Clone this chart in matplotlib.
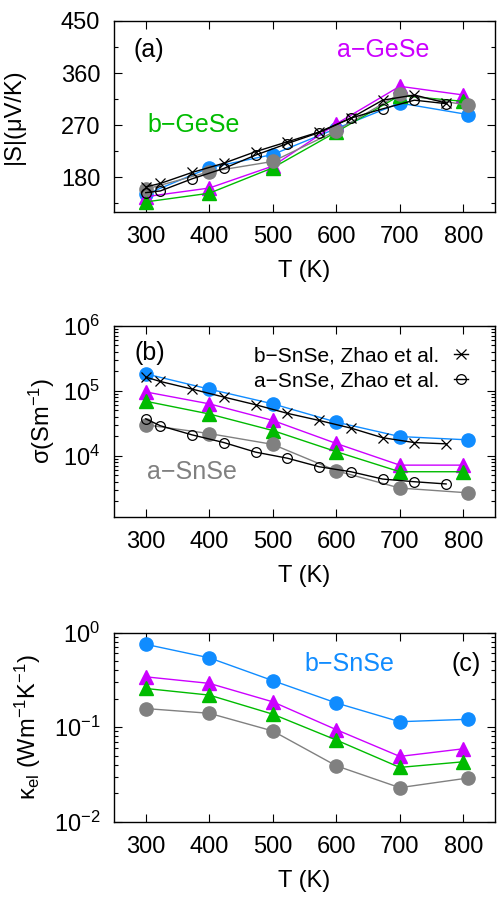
import numpy as np
import matplotlib
matplotlib.use('Agg')
import matplotlib.pyplot as plt
from matplotlib.ticker import MultipleLocator, LogLocator, NullFormatter

plt.rcParams['font.family'] = ['Liberation Sans', 'DejaVu Sans']
plt.rcParams['mathtext.default'] = 'regular'
plt.rcParams['axes.linewidth'] = 1.0

# temperatures
T_calc = [300, 400, 500, 600, 700, 800]
T_circ = [300, 400, 500, 600, 700, 808]   # filled circle series sit a bit right at 800 K
T_exp = [300, 323, 373, 423, 473, 523, 573, 623, 673, 723, 773]

# (a) Seebeck |S| (uV/K)
S_bSnSe = [150, 196, 219, 264, 308, 288]
S_aSnSe = [159, 189, 207, 260, 324, 304]
S_aGeSe = [146, 161, 199, 272, 337, 322]
S_bGeSe = [137, 152, 196, 258, 321, 311]
S_bZhao = [163, 169, 188, 204, 224, 241, 258, 282, 313, 322, 308]
S_aZhao = [153, 156, 177, 195, 218, 238, 257, 282, 298, 313, 307]

# (b) electrical conductivity (S/m)
sig_bSnSe = [1.82e5, 1.06e5, 6.3e4, 3.3e4, 1.98e4, 1.76e4]
sig_aSnSe = [3.0e4, 2.2e4, 1.5e4, 5.9e3, 3.2e3, 2.7e3]
sig_aGeSe = [9.6e4, 6.3e4, 3.5e4, 1.55e4, 7.2e3, 7.2e3]
sig_bGeSe = [6.9e4, 4.4e4, 2.45e4, 1.16e4, 5.7e3, 5.7e3]
sig_bZhao = [1.62e5, 1.39e5, 1.06e5, 8.0e4, 6.1e4, 4.5e4, 3.5e4, 2.67e4, 1.9e4, 1.6e4, 1.53e4]
sig_aZhao = [3.7e4, 2.9e4, 2.1e4, 1.6e4, 1.14e4, 9.2e3, 6.8e3, 5.7e3, 4.4e3, 4.0e3, 3.7e3]

# (c) electronic thermal conductivity (W/mK)
kel_bSnSe = [0.75, 0.54, 0.31, 0.18, 0.114, 0.121]
kel_aSnSe = [0.157, 0.14, 0.091, 0.039, 0.0229, 0.029]
kel_aGeSe = [0.34, 0.29, 0.185, 0.094, 0.049, 0.059]
kel_bGeSe = [0.256, 0.218, 0.137, 0.073, 0.0375, 0.043]

c_blue = '#108cff'
c_mag = '#cc00ff'
c_green = '#00bb00'
c_gray = '#808080'

fs = 17
fs_note = 18

fig = plt.figure(figsize=(4.98, 9.01), dpi=100)
L, W = 0.229, 0.765
ax1 = fig.add_axes([L, 0.765, W, 0.2117])
ax2 = fig.add_axes([L, 0.4265, W, 0.212])
ax3 = fig.add_axes([L, 0.088, W, 0.210])


def calc_series(ax, yb, ya, yag, ybg):
    ax.plot(T_circ, yb, '-o', color=c_blue, lw=1.0, ms=9.5, zorder=3)
    ax.plot(T_calc, yag, '-^', color=c_mag, lw=1.0, ms=9.5, zorder=4)
    ax.plot(T_calc, ybg, '-^', color=c_green, lw=1.0, ms=9.5, zorder=5)
    ax.plot(T_circ, ya, '-o', color=c_gray, lw=1.0, ms=9.5, zorder=6)


def style(ax):
    ax.set_xlim(250, 850)
    ax.xaxis.set_major_locator(MultipleLocator(100))
    ax.tick_params(which='both', direction='in', top=True, right=True,
                   labelsize=fs, pad=10)
    ax.tick_params(which='major', length=6, width=0.8)
    ax.tick_params(which='minor', length=3, width=0.8)
    ax.set_xlabel('T (K)', fontsize=fs, labelpad=9)


# panel (a)
calc_series(ax1, S_bSnSe, S_aSnSe, S_aGeSe, S_bGeSe)
ax1.plot(T_exp, S_bZhao, '-x', color='black', lw=1.0, ms=7, mew=0.9, zorder=7)
ax1.plot(T_exp, S_aZhao, '-o', color='black', lw=1.0, ms=7, mfc='none', mew=0.9, zorder=8)
ax1.set_ylim(120, 450)
ax1.set_yticks([180, 270, 360, 450])
ax1.yaxis.set_minor_locator(MultipleLocator(45))
style(ax1)
ax1.set_ylabel('|S|(μV/K)', fontsize=fs)
ax1.yaxis.set_label_coords(-0.235, 0.5)
ax1.text(0.052, 0.848, '(a)', transform=ax1.transAxes, fontsize=fs_note, va='center')
ax1.text(0.585, 0.848, 'a−GeSe', transform=ax1.transAxes, fontsize=fs_note, va='center', color=c_mag)
ax1.text(0.087, 0.455, 'b−GeSe', transform=ax1.transAxes, fontsize=fs_note, va='center', color=c_green)

# panel (b)
calc_series(ax2, sig_bSnSe, sig_aSnSe, sig_aGeSe, sig_bGeSe)
hx, = ax2.plot(T_exp, sig_bZhao, '-x', color='black', lw=1.0, ms=7, mew=0.9, zorder=7)
ho, = ax2.plot(T_exp, sig_aZhao, '-o', color='black', lw=1.0, ms=7, mfc='none', mew=0.9, zorder=8)
ax2.set_yscale('log')
ax2.set_ylim(1160, 1e6)
ax2.yaxis.set_minor_locator(LogLocator(base=10, subs=np.arange(2, 10), numticks=20))
ax2.yaxis.set_minor_formatter(NullFormatter())
style(ax2)
ax2.set_yticks([1e4, 1e5, 1e6])
ax2.set_ylabel('σ(Sm$^{-1}$)', fontsize=fs)
ax2.yaxis.set_label_coords(-0.15, 0.5)
ax2.text(0.055, 0.855, '(b)', transform=ax2.transAxes, fontsize=fs_note, va='center')
ax2.text(0.087, 0.236, 'a−SnSe', transform=ax2.transAxes, fontsize=fs_note, va='center', color=c_gray)
ax2.legend([hx, ho], ['b−SnSe, Zhao et al.', 'a−SnSe, Zhao et al.'],
           loc='upper right', bbox_to_anchor=(0.968, 0.97), frameon=False,
           markerfirst=False, handlelength=0.7, handletextpad=0.7,
           labelspacing=0.3, fontsize=15, borderaxespad=0.3)

# panel (c)
calc_series(ax3, kel_bSnSe, kel_aSnSe, kel_aGeSe, kel_bGeSe)
ax3.set_yscale('log')
ax3.set_ylim(1e-2, 1e0)
ax3.yaxis.set_minor_locator(LogLocator(base=10, subs=np.arange(2, 10), numticks=20))
ax3.yaxis.set_minor_formatter(NullFormatter())
style(ax3)
ax3.set_yticks([1e-2, 1e-1, 1e0])
ax3.set_ylabel('κ$_{el}$ (Wm$^{-1}$K$^{-1}$)', fontsize=fs)
ax3.yaxis.set_label_coords(-0.186, 0.5)
ax3.text(0.501, 0.836, 'b−SnSe', transform=ax3.transAxes, fontsize=fs_note, va='center', color=c_blue)
ax3.text(0.886, 0.836, '(c)', transform=ax3.transAxes, fontsize=fs_note, va='center')

fig.savefig('out.png', dpi=100)
